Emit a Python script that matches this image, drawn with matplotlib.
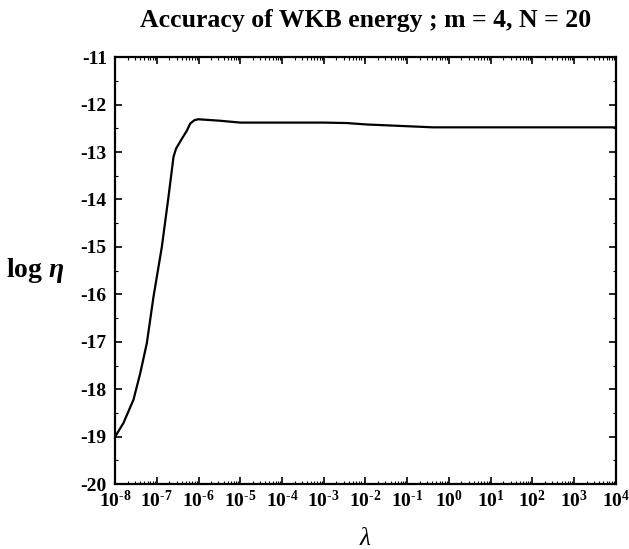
import matplotlib
matplotlib.use('Agg')
import matplotlib.pyplot as plt
import numpy as np
from matplotlib.ticker import LogLocator, NullFormatter, FuncFormatter, MultipleLocator

plt.rcParams['font.family'] = 'Liberation Serif'
plt.rcParams['font.weight'] = 'bold'
plt.rcParams['mathtext.fontset'] = 'custom'
plt.rcParams['mathtext.rm'] = 'Liberation Serif:bold'
plt.rcParams['mathtext.it'] = 'Liberation Serif:italic'
plt.rcParams['mathtext.bf'] = 'Liberation Serif:bold'

# log10(lambda) y log10(eta)
log_lambda = [-8.0, -7.80, -7.56, -7.40, -7.24, -7.08, -6.88, -6.72, -6.60, -6.54,
              -6.40, -6.28, -6.20, -6.10, -6.01, -5.5, -5.0, -4.0, -3.0, -2.44,
              -1.97, -1.17, -0.38, 1.0, 2.0, 3.0, 4.0]
log_eta = [-19.0, -18.71, -18.22, -17.67, -17.03, -16.05, -15.0, -13.94, -13.1, -12.93,
           -12.72, -12.55, -12.40, -12.33, -12.31, -12.34, -12.38, -12.38, -12.38, -12.39,
           -12.42, -12.45, -12.48, -12.48, -12.48, -12.48, -12.48]

lam = 10.0 ** np.array(log_lambda)


def etiqueta(x, pos):
    e = int(round(np.log10(x)))
    return r'$10^{\text{%d}}$' % e


fig = plt.figure(figsize=(6.29, 5.49), dpi=100)
ax = fig.add_axes([0.183, 0.118, 0.796, 0.778])
ax.plot(lam, log_eta, color='black', linewidth=1.6)

ax.set_xscale('log')
ax.set_xlim(1e-8, 1e4)
ax.set_ylim(-20, -11)
ax.set_yticks(np.arange(-20, -10, 1))
ax.set_yticklabels([str(v) for v in range(-20, -10)])
ax.yaxis.set_minor_locator(MultipleLocator(0.5))
ax.xaxis.set_major_locator(LogLocator(base=10, numticks=20))
ax.xaxis.set_major_formatter(FuncFormatter(etiqueta))
ax.xaxis.set_minor_locator(LogLocator(base=10, subs=np.arange(2, 10), numticks=200))
ax.xaxis.set_minor_formatter(NullFormatter())

for s in ax.spines.values():
    s.set_linewidth(1.6)
ax.tick_params(which='both', direction='in', top=True, right=True, labelsize=14)
ax.tick_params(which='major', length=5, width=1.2)
ax.tick_params(which='minor', length=2.5, width=0.8)
ax.tick_params(axis='x', pad=4)
ax.tick_params(axis='y', pad=6)

ax.set_title('Accuracy of WKB energy ; m = 4, N = 20', fontsize=18.5, fontweight='bold', pad=22)
ax.set_xlabel('λ', fontsize=18, fontstyle='italic', fontweight='normal', labelpad=12)
fig.text(0.056, 0.508, r'log $\eta$', fontsize=20, fontweight='bold', ha='center', va='center')

fig.savefig('out.png', dpi=100)
